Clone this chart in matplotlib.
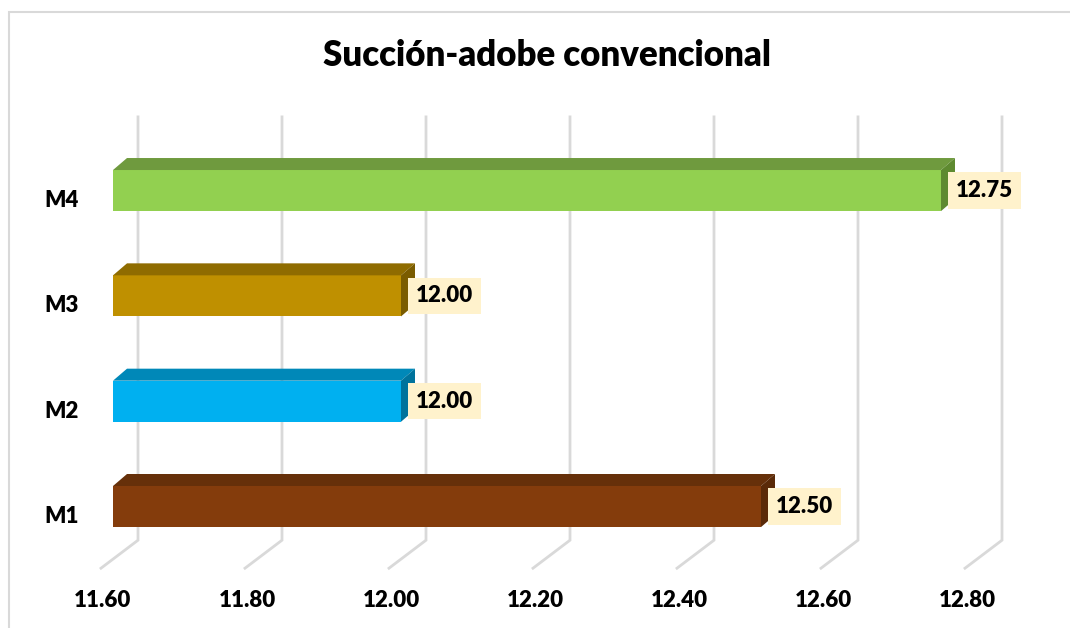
import numpy as np
import matplotlib.pyplot as plt
from matplotlib.patches import Polygon, Rectangle

categories = ['M1', 'M2', 'M3', 'M4']
values = [12.50, 12.00, 12.00, 12.75]
front_colors = ['#843C0C', '#00B0F0', '#BF9000', '#92D050']
top_colors = ['#66300A', '#0088B8', '#8F6C00', '#6F9A3E']
side_colors = ['#5A2A08', '#00739C', '#7A5C00', '#5E8A30']
x_ticks = [11.60, 11.80, 12.00, 12.20, 12.40, 12.60, 12.80]
title = 'Succión-adobe convencional'

plt.rcParams['font.family'] = ['Lato', 'DejaVu Sans']

W, H = 1070, 628
fig = plt.figure(figsize=(W / 100, H / 100), dpi=100)
ax = fig.add_axes([113 / W, (H - 559.2) / H, 864 / W, 421.3 / H])
ax.set_xlim(x_ticks[0], x_ticks[-1])
ax.set_ylim(-0.5, 3.5)
ax.axis('off')

# chart border
fig.patches.append(Rectangle((9 / W, -0.1), 1.2, (H - 11.5) / H + 0.1,
                             transform=fig.transFigure, fill=False,
                             edgecolor='#D9D9D9', lw=1.5))


def shift(x, y, dx, dy):
    # move a data point by dx, dy pixels (dy up)
    p = ax.transData.transform((x, y))
    return ax.transData.inverted().transform(p + np.array([dx, dy]))


# depth offsets in pixels
back = (25, 19)
front = (-12, -9)
bar_d = (14, 12)

# back wall gridlines and floor lines
for v in x_ticks:
    b0 = shift(v, -0.5, *back)
    b1 = shift(v, 3.5, back[0], back[1] + 2)
    f0 = shift(v, -0.5, *front)
    ax.plot([f0[0], b0[0], b1[0]], [f0[1], b0[1], b1[1]], color='#D9D9D9',
            lw=2, zorder=1, clip_on=False, solid_joinstyle='miter')
    ax.annotate(f'{v:.2f}', (v, -0.5), xytext=(-10, -41),
                textcoords='offset pixels', ha='center', va='center',
                fontsize=16, fontweight='heavy', annotation_clip=False)

bar_h = 0.39
x0 = x_ticks[0]
for i, (cat, val) in enumerate(zip(categories, values)):
    y0, y1 = i - bar_h / 2, i + bar_h / 2
    ax.add_patch(Rectangle((x0, y0), val - x0, bar_h, facecolor=front_colors[i],
                           edgecolor='none', zorder=3))
    top = [(x0, y1), (val, y1), tuple(shift(val, y1, *bar_d)), tuple(shift(x0, y1, *bar_d))]
    ax.add_patch(Polygon(top, closed=True, facecolor=top_colors[i],
                         edgecolor='none', zorder=3, clip_on=False))
    side = [(val, y0), (val, y1), tuple(shift(val, y1, *bar_d)), tuple(shift(val, y0, *bar_d))]
    ax.add_patch(Polygon(side, closed=True, facecolor=side_colors[i],
                         edgecolor='none', zorder=3, clip_on=False))
    ax.annotate(f'{val:.2f}', (val, i), xytext=(15, 0), textcoords='offset pixels',
                ha='left', va='center', fontsize=16, fontweight='heavy', zorder=5,
                bbox=dict(boxstyle='square,pad=0.35', facecolor='#FFF2CC', edgecolor='none'),
                annotation_clip=False)
    ax.annotate(cat, (x0, i), xytext=(-34, -10), textcoords='offset pixels',
                ha='right', va='center', fontsize=16, fontweight='heavy',
                annotation_clip=False)

fig.text(547 / W, 1 - 55 / H, title, ha='center', va='center',
         fontsize=25, fontweight='heavy')

fig.savefig('out.png', dpi=100)
